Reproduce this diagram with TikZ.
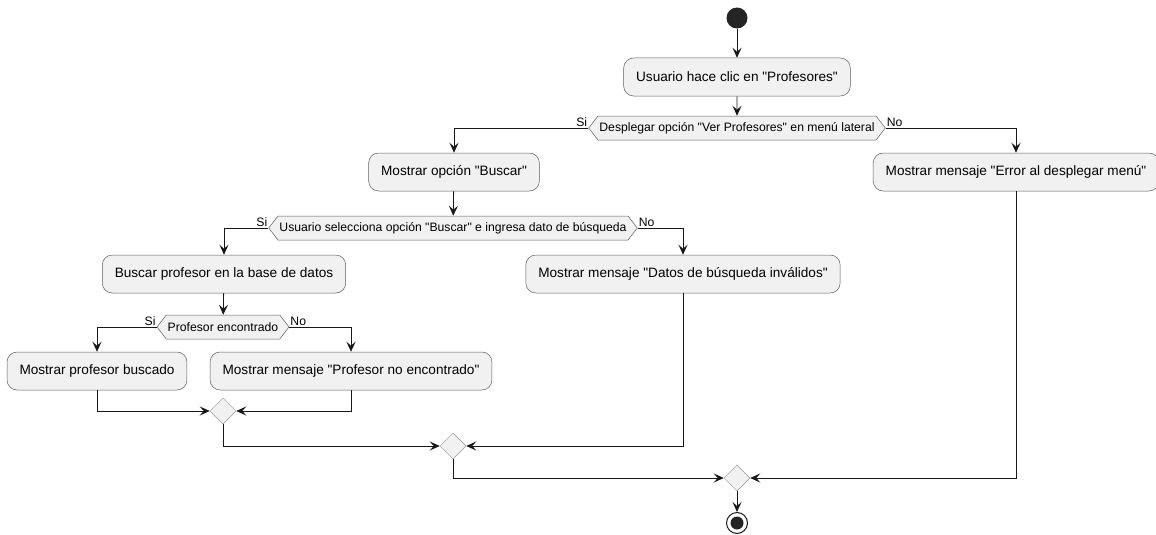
\documentclass[tikz,border=0pt]{standalone}
\usepackage{fontspec}
\setmainfont{Liberation Sans}[Ligatures=TeXOff]
\usetikzlibrary{arrows.meta,shapes.geometric,shapes.symbols}
\definecolor{actfill}{HTML}{F1F1F1}
\definecolor{actline}{HTML}{181818}
\begin{document}
\begin{tikzpicture}[
  x=1pt, y=-1pt,
  font=\fontsize{13.6}{16}\selectfont,
  action/.style={draw=actline!70, line width=.5pt, fill=actfill,
                 rounded corners=10pt, minimum height=38pt, inner xsep=12.5pt},
  choice/.style={signal, signal to=west and east, signal pointer angle=105,
                 draw=actline!70, line width=.5pt, fill=actfill,
                 font=\fontsize{12.2}{14}\selectfont,
                 minimum height=24pt, inner xsep=1.5pt, inner ysep=1pt},
  merge/.style={diamond, draw=actline!45, line width=.5pt, fill=actfill,
                minimum width=26pt, minimum height=26pt, inner sep=0pt},
  guard/.style={font=\fontsize{12.2}{14}\selectfont, inner sep=1pt},
  link/.style={draw=actline, line width=.8pt},
  flow/.style={link, -{Stealth[length=10pt, width=9pt, inset=4pt]}}
]
\useasboundingbox (0,0) rectangle (1156,535);

% start
\node[circle, fill=actline!95, minimum size=21pt, inner sep=0pt] (start) at (737,18) {};

% main branch
\node[action] (click) at (737,77) {Usuario hace clic en "Profesores"};
\node[choice] (menu) at (737,128) {Desplegar opción "Ver Profesores" en menú lateral};
\node[action] (search) at (454,172) {Mostrar opción "Buscar"};
\node[action] (menuerr) at (1016,172) {Mostrar mensaje "Error al desplegar menú"};

% search branch
\node[choice] (input) at (453,228) {Usuario selecciona opción "Buscar" e ingresa dato de búsqueda};
\node[action] (lookup) at (224,274) {Buscar profesor en la base de datos};
\node[action] (invalid) at (683,274) {Mostrar mensaje "Datos de búsqueda inválidos"};

% lookup result
\node[choice] (found) at (223,327) {Profesor encontrado};
\node[action] (show) at (97,371) {Mostrar profesor buscado};
\node[action] (notfound) at (351,371) {Mostrar mensaje "Profesor no encontrado"};

% merges and stop
\node[merge] (join1) at (223,411) {};
\node[merge] (join2) at (453,446) {};
\node[merge] (join3) at (737,478) {};
\node[circle, draw=actline, line width=1pt, fill=white, minimum size=21pt, inner sep=0pt] (stop) at (737,523) {};
\node[circle, fill=actline!95, minimum size=13pt, inner sep=0pt] (stopdot) at (stop) {};

% guards
\foreach \n in {menu,input,found} {
  \node[guard, anchor=south east] (\n si) at (\n.west) {Si};
  \node[guard, anchor=south west] (\n no) at (\n.east) {No};
}

% straight flows
\foreach \a/\b in {start/click, click/menu, search/input, lookup/found, join3/stop}
  \draw[flow] (\a) -- (\b);

% branch flows
\draw[flow] (menu.west) -| (search.north);
\draw[flow] (menu.east) -| (menuerr.north);
\draw[flow] (input.west) -| (lookup.north);
\draw[flow] (input.east) -| (invalid.north);
\draw[flow] (found.west) -| (show.north);
\draw[flow] (found.east) -| (notfound.north);

% merge flows
\draw[flow] (show.south) |- (join1.west);
\draw[flow] (notfound.south) |- (join1.east);
\draw[flow] (join1.south) |- (join2.west);
\draw[flow] (invalid.south) |- (join2.east);
\draw[flow] (join2.south) |- (join3.west);
\draw[flow] (menuerr.south) |- (join3.east);
\end{tikzpicture}
\end{document}
